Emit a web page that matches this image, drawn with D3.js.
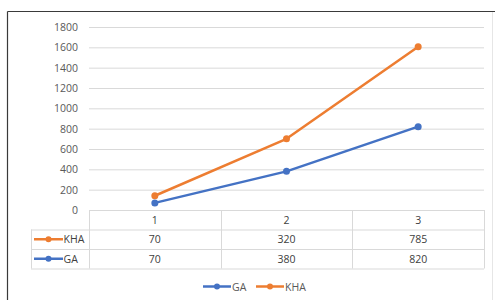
<!DOCTYPE html>
<html lang="en">
<head>
<meta charset="UTF-8">
<title>GA / KHA stacked line</title>
<style>
  body { margin: 0; background: #fff; }
  svg { display: block; font-family: "Open Sans", "Liberation Sans", sans-serif; }
</style>
</head>
<body>
<div id="chart"></div>
<script src="https://d3js.org/d3.v7.min.js"></script>
<script>
const categories = ["1", "2", "3"];
const gaValues = [70, 380, 820];
const khaValues = [70, 320, 785];
const yTicks = [0, 200, 400, 600, 800, 1000, 1200, 1400, 1600, 1800];

const width = 496, height = 300;
const plotLeft = 89, plotRight = 484, plotTop = 27, zeroY = 210;
const rowH = 19.5;
const fs = 10.5;

const svg = d3.select("#chart").append("svg")
  .attr("width", width)
  .attr("height", height);

// frame
svg.append("line").attr("x1", 7.5).attr("x2", 495).attr("y1", 11.5).attr("y2", 11.5)
  .attr("stroke", "#3a3a3a").attr("stroke-width", 1.2);
svg.append("line").attr("x1", 7.5).attr("x2", 7.5).attr("y1", 11.5).attr("y2", 300)
  .attr("stroke", "#3a3a3a").attr("stroke-width", 1.2);
svg.append("line").attr("x1", 492.5).attr("x2", 492.5).attr("y1", 12).attr("y2", 300)
  .attr("stroke", "#e6e6e6");

const x = d3.scaleBand().domain(categories).range([plotLeft, plotRight]);
const y = d3.scaleLinear().domain([0, 1800]).range([zeroY, plotTop]);

// gridlines
svg.append("g").selectAll("line")
  .data(yTicks.filter(d => d > 0))
  .join("line")
  .attr("x1", plotLeft).attr("x2", plotRight)
  .attr("y1", d => y(d) + 0.5).attr("y2", d => y(d) + 0.5)
  .attr("stroke", "#d9d9d9");

// y axis labels
const yAxis = d3.axisLeft(y).tickValues(yTicks).tickFormat(d3.format("d")).tickSize(0).tickPadding(11);
svg.append("g")
  .attr("transform", `translate(${plotLeft},0)`)
  .call(yAxis)
  .call(g => g.select(".domain").remove())
  .call(g => g.selectAll("text").attr("fill", "#595959").attr("font-size", fs)
    .attr("font-family", "'Open Sans', 'Liberation Sans', sans-serif"));

// data table
const tableColor = "#d9d9d9";
const tg = svg.append("g");
const tBottom = zeroY + rowH * 3;
tg.append("line").attr("x1", plotLeft).attr("x2", plotRight).attr("y1", zeroY + 0.5).attr("y2", zeroY + 0.5).attr("stroke", tableColor);
[1, 2, 3].forEach(i => {
  tg.append("line").attr("x1", 31).attr("x2", plotRight)
    .attr("y1", zeroY + rowH * i + 0.5).attr("y2", zeroY + rowH * i + 0.5)
    .attr("stroke", tableColor);
});
tg.append("line").attr("x1", 31.5).attr("x2", 31.5).attr("y1", zeroY + rowH).attr("y2", tBottom).attr("stroke", tableColor);
tg.selectAll("line.v").data([...categories.map(c => x(c)), plotRight])
  .join("line")
  .attr("class", "v")
  .attr("x1", d => Math.round(d) + 0.5).attr("x2", d => Math.round(d) + 0.5)
  .attr("y1", zeroY).attr("y2", tBottom)
  .attr("stroke", tableColor);

const cx = c => x(c) + x.bandwidth() / 2;
tg.selectAll("text.cat").data(categories).join("text")
  .attr("class", "cat")
  .attr("x", cx).attr("y", zeroY + rowH / 2 + 4)
  .attr("text-anchor", "middle").attr("fill", "#404040").attr("font-size", fs)
  .text(d => d);

const series = [
  { name: "KHA", color: "#ED7D31", values: khaValues },
  { name: "GA", color: "#4472C4", values: gaValues }
];

series.forEach((s, i) => {
  const ry = zeroY + rowH * (i + 1) + rowH / 2;
  tg.append("line").attr("x1", 34).attr("x2", 63).attr("y1", ry).attr("y2", ry)
    .attr("stroke", s.color).attr("stroke-width", 2.5);
  tg.append("circle").attr("cx", 48.5).attr("cy", ry).attr("r", 3).attr("fill", s.color);
  tg.append("text").attr("x", 63.5).attr("y", ry + 4).attr("fill", "#404040")
    .attr("font-size", fs).text(s.name);
  tg.selectAll(null).data(s.values).join("text")
    .attr("x", (d, j) => cx(categories[j])).attr("y", ry + 4)
    .attr("text-anchor", "middle").attr("fill", "#404040").attr("font-size", fs)
    .text(d => d);
});

// stacked lines: GA at bottom, KHA stacked on top
const stackedKha = khaValues.map((v, i) => v + gaValues[i]);
const lineData = [
  { color: "#4472C4", vals: gaValues },
  { color: "#ED7D31", vals: stackedKha }
];
const line = d3.line().x((d, i) => cx(categories[i])).y(d => y(d));
lineData.forEach(s => {
  svg.append("path").datum(s.vals)
    .attr("d", line).attr("fill", "none")
    .attr("stroke", s.color).attr("stroke-width", 2.5).attr("stroke-linejoin", "round");
  svg.selectAll(null).data(s.vals).join("circle")
    .attr("cx", (d, i) => cx(categories[i])).attr("cy", d => y(d))
    .attr("r", 3.5).attr("fill", s.color);
});

// legend
const legend = [
  { name: "GA", color: "#4472C4", x0: 203 },
  { name: "KHA", color: "#ED7D31", x0: 256 }
];
const ly = 286.5;
legend.forEach(l => {
  svg.append("line").attr("x1", l.x0).attr("x2", l.x0 + 28).attr("y1", ly).attr("y2", ly)
    .attr("stroke", l.color).attr("stroke-width", 2.5);
  svg.append("circle").attr("cx", l.x0 + 14).attr("cy", ly).attr("r", 3).attr("fill", l.color);
  svg.append("text").attr("x", l.x0 + 29).attr("y", ly + 4)
    .attr("fill", "#595959").attr("font-size", fs).text(l.name);
});
</script>
</body>
</html>
